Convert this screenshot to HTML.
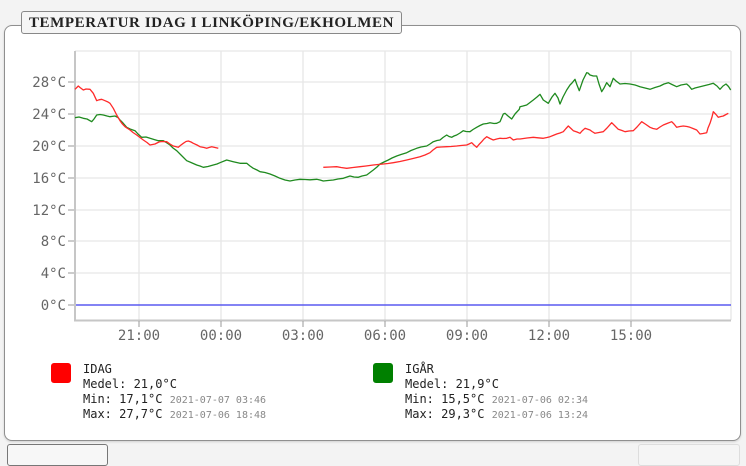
<!DOCTYPE html>
<html><head><meta charset="utf-8"><style>
html,body{margin:0;padding:0;width:746px;height:454px;overflow:hidden;background:#f3f3f3;}
.card{position:absolute;left:4px;top:25px;width:735px;height:414px;border:1px solid #8f8f8f;border-radius:8px;background:#fff;box-shadow:0 1px 2px rgba(0,0,0,0.15);}
.title{position:absolute;left:21px;top:11px;width:379px;height:21px;border:1px solid #888;border-radius:3px;background:#f5f5f5;font-family:"Liberation Serif",serif;font-weight:bold;font-size:15px;line-height:22px;color:#222;text-align:center;letter-spacing:0.6px;white-space:nowrap;}
.b1{position:absolute;left:7px;top:444px;width:99px;height:20px;border:1px solid #777;border-radius:3px;background:#f7f7f7;}
.b2{position:absolute;left:638px;top:444px;width:100px;height:20px;border:1px solid #ddd;border-radius:3px;background:#f5f5f5;}
svg{position:absolute;left:0;top:0;}
</style></head><body>
<div class="card"></div>
<div class="title">TEMPERATUR IDAG I LINKÖPING/EKHOLMEN</div>
<div class="b1"></div>
<div class="b2"></div>
<svg width="746" height="454" viewBox="0 0 746 454">
<g stroke="#e6e6e6" stroke-width="1.3" fill="none">
<line x1="75" y1="51" x2="731" y2="51"/>
<line x1="75" y1="82" x2="731" y2="82"/>
<line x1="75" y1="114" x2="731" y2="114"/>
<line x1="75" y1="146" x2="731" y2="146"/>
<line x1="75" y1="178" x2="731" y2="178"/>
<line x1="75" y1="210" x2="731" y2="210"/>
<line x1="75" y1="241" x2="731" y2="241"/>
<line x1="75" y1="273" x2="731" y2="273"/>
<line x1="139" y1="51" x2="139" y2="320"/>
<line x1="221" y1="51" x2="221" y2="320"/>
<line x1="303" y1="51" x2="303" y2="320"/>
<line x1="385" y1="51" x2="385" y2="320"/>
<line x1="467" y1="51" x2="467" y2="320"/>
<line x1="549" y1="51" x2="549" y2="320"/>
<line x1="631" y1="51" x2="631" y2="320"/>
<line x1="731" y1="51" x2="731" y2="320"/>
</g>
<line x1="75" y1="305" x2="731" y2="305" stroke="#5a5af0" stroke-width="1.6"/>
<g stroke="#c6c6c6" stroke-width="2" fill="none">
<line x1="75" y1="51" x2="75" y2="321"/>
<line x1="74" y1="320.5" x2="731" y2="320.5"/>
</g>
<g stroke="#999" stroke-width="1">
<line x1="68" y1="82" x2="74" y2="82"/>
<line x1="68" y1="114" x2="74" y2="114"/>
<line x1="68" y1="146" x2="74" y2="146"/>
<line x1="68" y1="178" x2="74" y2="178"/>
<line x1="68" y1="210" x2="74" y2="210"/>
<line x1="68" y1="241" x2="74" y2="241"/>
<line x1="68" y1="273" x2="74" y2="273"/>
<line x1="68" y1="305" x2="74" y2="305"/>
<line x1="139" y1="321" x2="139" y2="327"/>
<line x1="221" y1="321" x2="221" y2="327"/>
<line x1="303" y1="321" x2="303" y2="327"/>
<line x1="385" y1="321" x2="385" y2="327"/>
<line x1="467" y1="321" x2="467" y2="327"/>
<line x1="549" y1="321" x2="549" y2="327"/>
<line x1="631" y1="321" x2="631" y2="327"/>
</g>
<g font-family="'DejaVu Sans Mono','Liberation Mono',monospace" font-size="14" fill="#666" text-anchor="end">
<text x="66" y="87">28°C</text>
<text x="66" y="119">24°C</text>
<text x="66" y="151">20°C</text>
<text x="66" y="183">16°C</text>
<text x="66" y="215">12°C</text>
<text x="66" y="246">8°C</text>
<text x="66" y="278">4°C</text>
<text x="66" y="310">0°C</text>
</g>
<g font-family="'DejaVu Sans Mono','Liberation Mono',monospace" font-size="14" fill="#666" text-anchor="middle">
<text x="139" y="340">21:00</text>
<text x="221" y="340">00:00</text>
<text x="303" y="340">03:00</text>
<text x="385" y="340">06:00</text>
<text x="467" y="340">09:00</text>
<text x="549" y="340">12:00</text>
<text x="631" y="340">15:00</text>
</g>
<polyline fill="none" stroke="#1f8a1f" stroke-width="1.3" stroke-linejoin="round" points="75,117.7 79,117 83.3,118.3 87,119 91.7,121.7 94,119 96.7,115 100,114.5 103.3,115 107,116 110,116.7 115,116 118,117.5 120,120 123,123 126.7,127.3 130,129 135,130.7 138,134 141.7,137.3 146,137 150,138.3 154,139.5 158.3,140.7 163.3,140.7 167,143 170,145 173,148 176.7,150.7 181,155 186.7,160.7 191,162.5 196.7,165 200,166 203.3,167.3 208,166.5 213.3,165 217,164 220,162.7 226.7,160 233.3,161.7 240,163.3 246.7,163.3 250,166 253.3,168.3 257,170 260,171.7 265,172.5 270,174 275,176 280,178.3 285,180 290,181 295,180 300,179.3 305,179.5 310,179.8 316.7,179.3 320,180 323.3,181 328,180.5 333.3,180 338,179 343.3,178.3 347,177 350,176 354,177 358.3,177.3 362,176 366.7,175 370,172.5 373.3,170 377,167 380,164 384,162 388.3,160 392,158 396.7,156 401,154.5 406.7,152.7 411,150.5 416.7,148.3 421,147 426.7,146 430,144 433.3,141.7 437,140.5 440,140 443,137.5 446.7,135 449,136.5 451.7,137.3 454,136 456.7,135 460,133 463.3,130.7 466,131.5 470,131.7 473,129.5 476.7,127.3 480,125.5 483.3,124 487,123.5 490,122.7 494,123.5 496.7,123.3 500,121.7 503.3,114 505,113.3 508,116 511.7,119 515,114 519.3,109.3 520,106.7 523,106 526.7,105 530,102.5 533.3,100 537,97 540,94.3 543.3,100 548.3,103.3 552,97 555,93.3 558,98 560,104 563,97 566.7,90 570,85 572,83 575,79.3 577,85 579.3,90.7 583,80 586.7,72.7 588,73 590,75 593.3,76 596.7,76 599,84 601.7,91.7 604,88 606.7,82.7 610,86.7 613.3,78.3 616,81 620,84 625,83.5 630,84 635,85 640,86.7 645,88 650,89.3 655,87.5 660,86 664,84 668.3,82.7 672,84.5 676.7,86.7 681,85 686.7,84 689,86 691.7,89.3 695,88 700,86.7 705,85.5 709,84.5 713.3,83.3 717,86 720,89.3 723,86 726,84 728.5,86.5 730.7,90"/>
<polyline fill="none" stroke="#ff2a2a" stroke-width="1.3" stroke-linejoin="round" points="75,89.3 78.3,86 80,87.5 83.3,90 86,89 90,89.3 93.3,93.3 96.7,100.7 99,99.8 101.7,99.3 105,100.7 108,102 110,103.3 113.3,108.3 116.7,115 120,120.7 122,123.5 125,126.7 130,130 133,132.5 136.7,135 140,137.5 143.3,140 147,142.5 150,145 155,144 158,142.5 160,141.7 163,141.5 166.7,141.7 170,144 173.3,146 178.3,147.3 181,145 183.3,143.3 186,141.5 188.3,141 191,142 193.3,143.3 197,145 200,146.7 204,147.5 206.7,148.3 209,147.5 211.7,146.7 215,147.5 218.3,148.3"/>
<polyline fill="none" stroke="#ff2a2a" stroke-width="1.3" stroke-linejoin="round" points="323.3,167.3 330,167 336.7,166.7 341,167.5 346.7,168.3 353,167.5 360,166.7 366,166 373.3,165 378,164.5 383.3,164 388,163.5 393.3,162.7 400,161.5 406.7,160 413,158.5 420,156.7 425,155 430,152.7 433,150 436.7,147.3 441,147 446.7,146.7 451,146.5 456.7,146 461,145.5 466.7,145 469,144 471.7,142.7 474,145 476.7,147.3 479,144.5 481.7,141.7 484,139 486.7,136.7 490,138.5 493.3,140 496.7,139 500,138.3 503,138.5 506.7,138.3 510,137.3 513.3,140 517,139 520,139 527,138 533.3,137.3 538,137.8 543.3,138.3 547,137.5 550,136.7 553,135.5 556.7,134 560,133 563.3,131.7 566,128.5 568.3,126 571,128.5 573.3,130.7 577,132 580,133.3 582,131 585,128.3 590,130 592,131.5 595,133.3 599,132.5 603.3,131.7 607,128 611.7,122.7 615,126 618.3,129.3 622,130.5 625,131.7 629,131 633.3,130.7 637,127 641.7,121.7 646,124.5 650,127.3 653,128.5 656.7,129.3 660,127 663.3,125 667,123.5 671.7,121.7 674,124 676.7,127.3 680,126.5 683.3,126 687,126.5 690,127.3 693,128.5 696.7,130 700,134 703,133.5 706.7,132.7 708,128 710,123.3 712,117 713.3,111.7 716,114.5 718.3,117.3 721,116.5 723.3,116 726,114.5 728.3,113.3"/>
<rect x="51" y="363" width="20" height="20" rx="3" fill="#ff0000"/>
<rect x="373" y="363" width="20" height="20" rx="3" fill="#008000"/>
<g font-family="'DejaVu Sans Mono','Liberation Mono',monospace" font-size="12" fill="#222">
<text x="83" y="373">IDAG</text>
<text x="83" y="388">Medel: 21,0°C</text>
<text x="83" y="403">Min: 17,1°C <tspan font-size="10" fill="#888">2021-07-07 03:46</tspan></text>
<text x="83" y="418">Max: 27,7°C <tspan font-size="10" fill="#888">2021-07-06 18:48</tspan></text>
<text x="405" y="373">IGÅR</text>
<text x="405" y="388">Medel: 21,9°C</text>
<text x="405" y="403">Min: 15,5°C <tspan font-size="10" fill="#888">2021-07-06 02:34</tspan></text>
<text x="405" y="418">Max: 29,3°C <tspan font-size="10" fill="#888">2021-07-06 13:24</tspan></text>
</g>
</svg>
</body></html>
